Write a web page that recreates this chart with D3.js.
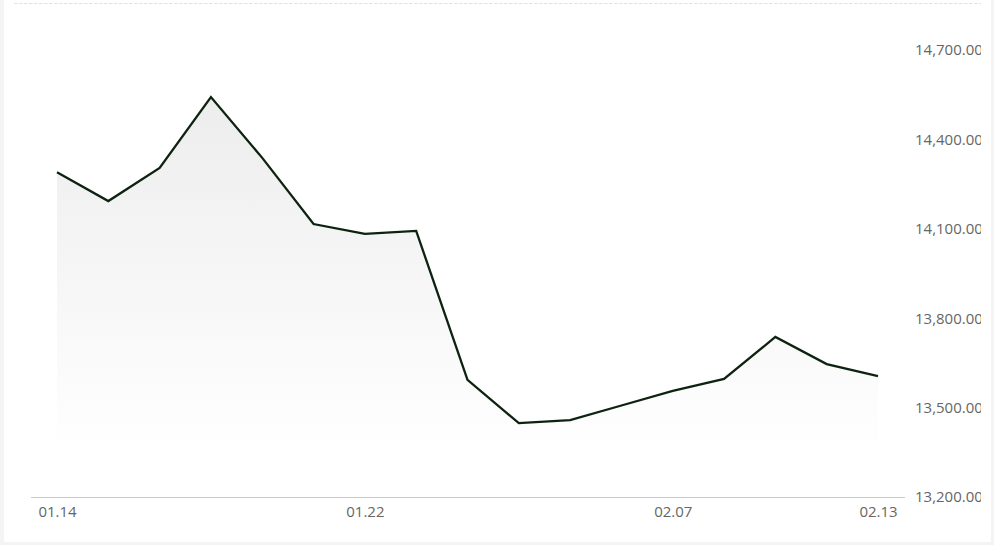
<!DOCTYPE html>
<html>
<head>
<meta charset="utf-8">
<script src="https://cdn.jsdelivr.net/npm/d3@7"></script>
<style>
  body { margin: 0; background: #f4f4f4; }
  svg { display: block; }
  .tick-label { font-family: "Open Sans", sans-serif; font-size: 15px; fill: #666; }
</style>
</head>
<body>
<div id="chart"></div>
<script>
// data
const dates = ["01.14", "01.15", "01.16", "01.17", "01.20", "01.21", "01.22", "01.23", "01.24",
  "01.27", "02.05", "02.06", "02.07", "02.10", "02.11", "02.12", "02.13"]
const closes = [14290, 14193, 14304, 14542, 14338, 14116, 14083, 14093, 13593,
  13448, 13458, 13507, 13556, 13596, 13737, 13646, 13606]
const xTickLabels = ["01.14", "01.22", "02.07", "02.13"]
const yTickValues = [13200, 13500, 13800, 14100, 14400, 14700]

function drawChart() {
  const dataset = dates.map((d, i) => ({ date: d, close: closes[i] }))

  let dimensions = {
    width: 994,
    height: 545,
    cardRight: 991,
    cardBottom: 542,
  }

  const wrapper = d3.select("#chart")
    .append("svg")
      .attr("width", dimensions.width)
      .attr("height", dimensions.height)

  const defs = wrapper.append("defs")
  defs.append("clipPath")
      .attr("id", "card-clip")
    .append("rect")
      .attr("x", 0)
      .attr("y", 0)
      .attr("width", 981)
      .attr("height", dimensions.height)

  // card
  wrapper.append("rect")
    .attr("x", 4)
    .attr("y", 0)
    .attr("width", dimensions.cardRight - 4)
    .attr("height", dimensions.cardBottom)
    .attr("fill", "#fff")

  // scales
  const xScale = d3.scalePoint()
    .domain(dates)
    .range([57, 878])

  const yScale = d3.scaleLinear()
    .domain([13200, 14700])
    .range([497, 50])

  const bounds = wrapper.append("g")
    .attr("clip-path", "url(#card-clip)")

  // top dashed line
  bounds.append("line")
    .attr("x1", 14)
    .attr("x2", 981)
    .attr("y1", 3.5)
    .attr("y2", 3.5)
    .attr("stroke", "#e2e2e2")
    .attr("stroke-dasharray", "3.5 1.5")

  // gradient area
  const grad = defs.append("linearGradient")
    .attr("id", "area-grad")
    .attr("gradientUnits", "userSpaceOnUse")
    .attr("x1", 0).attr("x2", 0)
    .attr("y1", yScale(d3.max(closes)))
    .attr("y2", yScale(13200) - 40)
  grad.append("stop").attr("offset", 0).attr("stop-color", "#ededed")
  grad.append("stop").attr("offset", 1).attr("stop-color", "#ffffff")

  const areaGenerator = d3.area()
    .x(d => xScale(d.date))
    .y0(yScale(13200))
    .y1(d => yScale(d.close))
  bounds.append("path")
    .attr("d", areaGenerator(dataset))
    .attr("fill", "url(#area-grad)")

  // x axis
  bounds.append("line")
    .attr("x1", 31)
    .attr("x2", 905)
    .attr("y1", 497.5)
    .attr("y2", 497.5)
    .attr("stroke", "#cccccc")

  const xAxisGenerator = d3.axisBottom(xScale)
    .tickValues(xTickLabels)
    .tickSize(0)
    .tickPadding(9)
  const xAxis = bounds.append("g")
    .attr("transform", "translate(0, 497)")
    .call(xAxisGenerator)
  xAxis.select(".domain").remove()
  xAxis.selectAll("text")
    .attr("class", "tick-label")
    .attr("fill", null)
    .attr("font-size", null)
    .attr("font-family", null)

  // y axis on right
  const yAxisGenerator = d3.axisRight(yScale)
    .tickValues(yTickValues)
    .tickFormat(d3.format(",.2f"))
    .tickSize(0)
    .tickPadding(10)
  const yAxis = bounds.append("g")
    .attr("transform", "translate(905, 0)")
    .call(yAxisGenerator)
  yAxis.select(".domain").remove()
  yAxis.selectAll("text")
    .attr("class", "tick-label")
    .attr("fill", null)
    .attr("font-size", null)
    .attr("font-family", null)

  // line
  const lineGenerator = d3.line()
    .x(d => xScale(d.date))
    .y(d => yScale(d.close))
  bounds.append("path")
    .attr("d", lineGenerator(dataset))
    .attr("fill", "none")
    .attr("stroke", "#0e2210")
    .attr("stroke-width", 2.3)
    .attr("stroke-linejoin", "miter")
}

drawChart()
</script>
</body>
</html>
